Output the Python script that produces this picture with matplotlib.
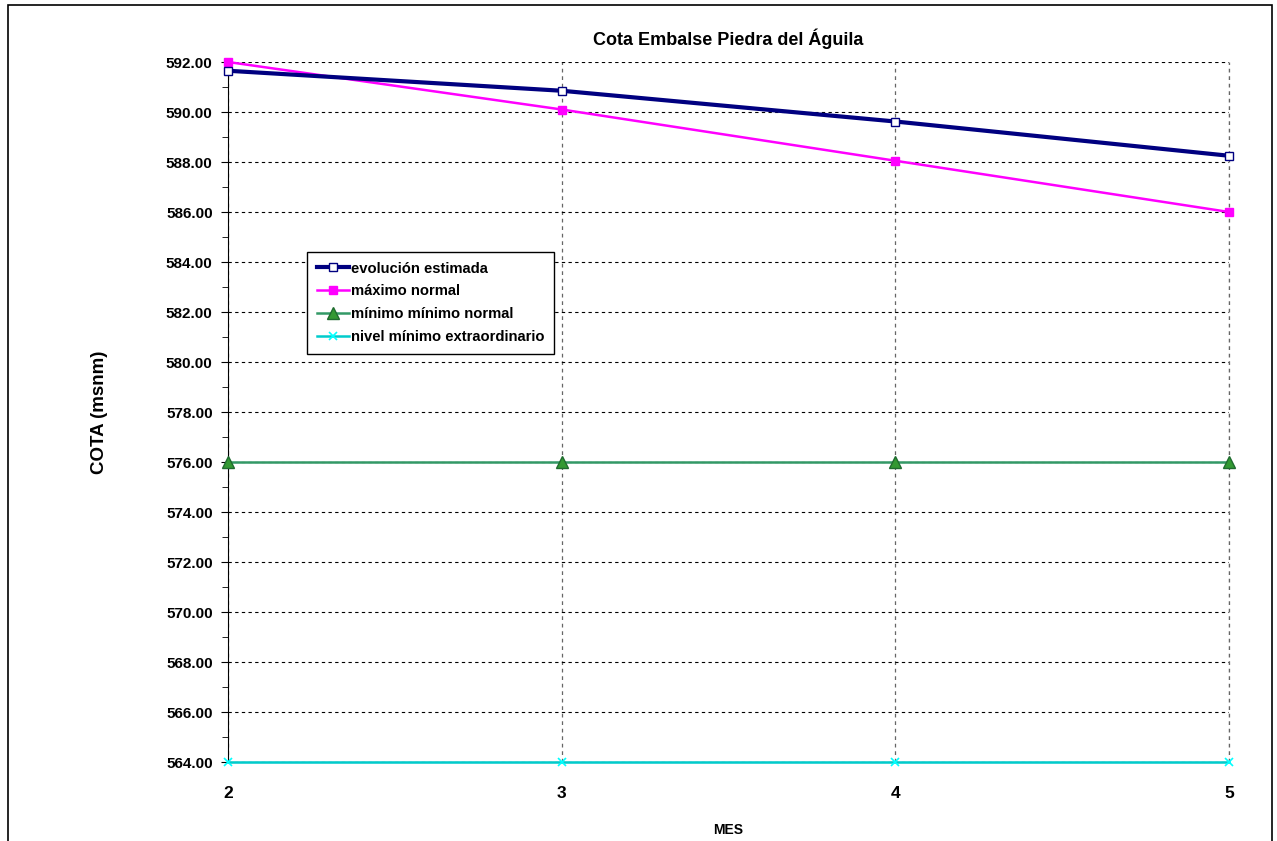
import numpy as np
import matplotlib.pyplot as plt
from matplotlib.patches import Rectangle
from matplotlib.ticker import MultipleLocator, FormatStrFormatter

plt.rcParams['font.family'] = ['Liberation Sans', 'DejaVu Sans']

# datos
meses = [2, 3, 4, 5]
evolucion = [591.65, 590.85, 589.62, 588.25]
maximo = [592.0, 590.1, 588.05, 586.0]
minimo_normal = [576.0, 576.0, 576.0, 576.0]
minimo_extra = [564.0, 564.0, 564.0, 564.0]

fig = plt.figure(figsize=(12.77, 8.41), dpi=100)
ax = fig.add_axes([228/1277, 1 - 762/841, 1001/1277, 700/841])

# marco exterior del grafico
fig.patches.append(Rectangle((8/1277, -0.05), 1264/1277, 1.05 - 5/841,
                             transform=fig.transFigure, fill=False,
                             edgecolor='black', lw=1.2, clip_on=False))

ax.plot(meses, minimo_extra, color='#00CCCC', lw=1.8, marker='x', clip_on=False,
        ms=6, mec='#00FFFF', mew=1.2, label='nivel mínimo extraordinario', zorder=3)
ax.plot(meses, minimo_normal, color='#339966', lw=1.8, marker='^', clip_on=False,
        ms=8, mfc='#339933', mec='#1f6b2f', label='mínimo mínimo normal', zorder=3)
ax.plot(meses, maximo, color='#FF00FF', lw=1.8, marker='s', clip_on=False,
        ms=6, mfc='#FF00FF', mec='#FF00FF', label='máximo normal', zorder=4)
ax.plot(meses, evolucion, color='#000080', lw=3, marker='s', clip_on=False,
        ms=6, mfc='white', mec='#000080', mew=1, label='evolución estimada', zorder=5)

ax.set_xlim(2, 5)
ax.set_ylim(564, 592)
ax.set_xticks(meses)
ax.yaxis.set_major_locator(MultipleLocator(2))
ax.yaxis.set_minor_locator(MultipleLocator(1))
ax.yaxis.set_major_formatter(FormatStrFormatter('%.2f'))

ax.tick_params(axis='y', which='major', direction='out', length=5, labelsize=11, pad=6)
ax.tick_params(axis='y', which='minor', direction='out', length=4)
ax.tick_params(axis='x', direction='out', length=0, labelsize=12.5, pad=17)
for lbl in ax.get_xticklabels() + ax.get_yticklabels():
    lbl.set_fontweight('bold')

ax.yaxis.grid(True, which='major', color='black', linestyle=(0, (3, 3)), lw=0.8)
ax.xaxis.grid(True, color='#666666', linestyle=(0, (3, 3)), lw=0.9)
ax.axvline(meses[-1], color='#666666', linestyle=(0, (3, 3)), lw=0.9,
           clip_on=False, zorder=0.5)
ax.set_axisbelow(True)

ax.spines['top'].set_visible(False)
ax.spines['right'].set_visible(False)
ax.spines['left'].set_color('black')
ax.spines['bottom'].set_color('black')

ax.set_title('Cota Embalse Piedra del Águila', fontsize=13, fontweight='bold', pad=12)
ax.set_ylabel('COTA (msnm)', fontsize=13.5, fontweight='bold', labelpad=42)
ax.set_xlabel('MES', fontsize=10, fontweight='bold', labelpad=16)

handles, labels = ax.get_legend_handles_labels()
leg = ax.legend(handles[::-1], labels[::-1], loc='upper left',
                bbox_to_anchor=(79/1001, 510/700), borderaxespad=0,
                fancybox=False, edgecolor='black', framealpha=1,
                prop={'weight': 'bold', 'size': 10.6}, handlelength=2.2,
                labelspacing=0.6, borderpad=0.65, handletextpad=0.15)
leg.get_frame().set_linewidth(1.0)

fig.savefig('out.png', dpi=100)
